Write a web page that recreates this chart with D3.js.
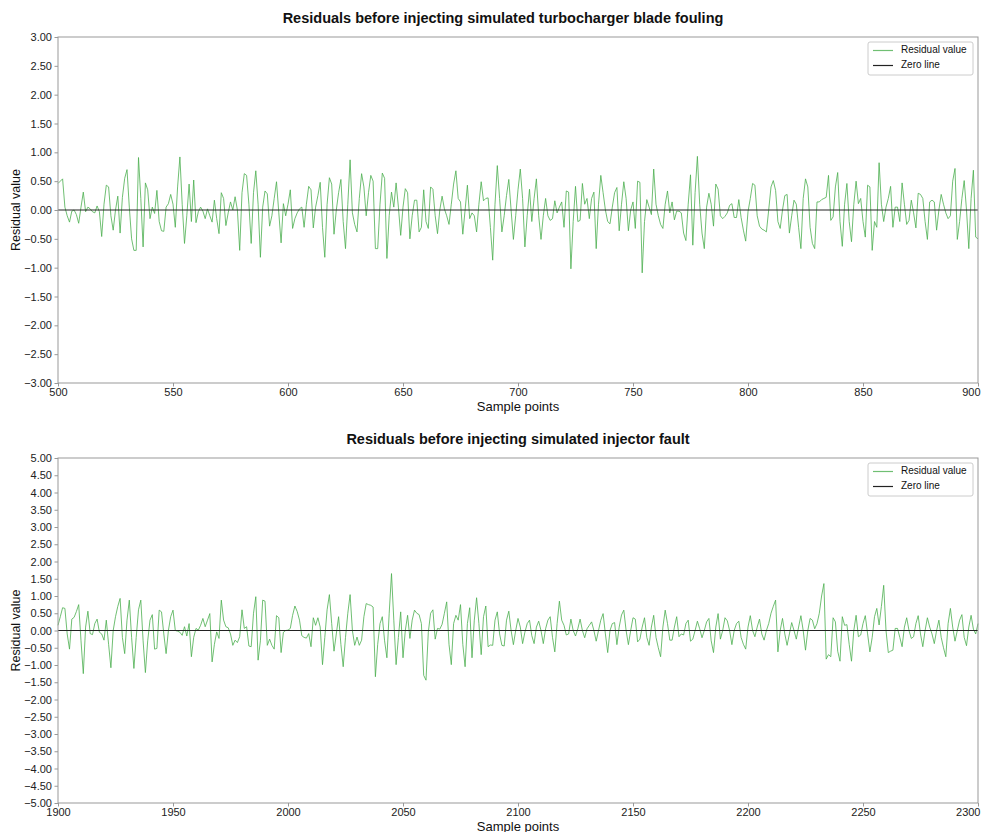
<!DOCTYPE html>
<html>
<head>
<meta charset="utf-8">
<script src="https://cdnjs.cloudflare.com/ajax/libs/d3/7.8.5/d3.min.js"></script>
<style>
  body { margin: 0; background: #fff; }
  text { font-family: Arial, "Liberation Sans", sans-serif; }
</style>
</head>
<body>
<svg id="chart" width="983" height="832"></svg>
<script>
// residuals, one value per sample point
var topStart = 500;
var topResiduals = [
  0.46,0.50,0.54,0.05,-0.10,-0.21,-0.02,0.00,-0.08,-0.23,
  0.05,0.31,-0.03,0.05,0.02,-0.03,-0.05,0.07,-0.03,-0.46,
  0.10,0.43,0.40,-0.10,-0.35,0.00,0.24,-0.40,0.22,0.55,
  0.70,0.05,-0.50,-0.70,-0.70,0.91,0.20,-0.64,0.47,0.35,
  -0.15,0.05,-0.06,0.34,-0.20,-0.36,-0.37,0.05,0.11,0.27,
  0.10,-0.30,0.40,0.92,0.10,-0.58,-0.10,0.45,-0.20,0.52,
  -0.22,-0.03,0.05,-0.02,-0.15,0.02,-0.10,-0.21,0.17,-0.15,
  -0.41,0.30,0.20,-0.27,-0.05,0.14,0.00,0.23,0.00,-0.70,
  0.30,0.63,0.60,0.10,-0.58,0.30,0.68,0.10,-0.82,0.05,
  0.33,0.28,-0.28,-0.10,0.20,0.49,-0.05,-0.57,0.11,-0.10,
  0.10,0.35,-0.32,-0.15,-0.05,0.02,0.05,-0.30,0.10,0.41,
  0.35,-0.31,0.05,0.25,0.48,-0.30,-0.82,0.10,0.56,0.45,
  -0.42,0.00,0.30,0.53,-0.20,-0.67,0.10,0.87,-0.05,-0.25,
  -0.38,0.20,0.63,0.40,-0.10,0.30,0.60,0.50,-0.67,-0.67,
  0.10,0.64,0.55,-0.84,-0.10,0.31,0.05,0.47,0.05,-0.44,
  0.05,0.37,0.30,-0.50,-0.10,0.17,0.17,-0.38,-0.30,0.35,
  -0.20,-0.32,0.40,0.36,-0.10,-0.41,0.00,0.24,0.02,-0.10,
  -0.25,0.10,0.45,0.68,0.20,0.14,-0.42,0.00,0.43,-0.15,
  -0.05,-0.10,-0.38,0.10,0.49,0.16,0.20,0.21,-0.30,-0.87,
  0.10,0.77,0.20,-0.38,-0.10,0.25,0.53,0.00,-0.51,-0.10,
  0.35,0.71,0.20,-0.64,-0.10,0.36,-0.20,0.20,0.54,-0.10,
  -0.51,-0.10,0.20,-0.10,-0.18,-0.15,0.16,-0.05,0.05,0.14,
  -0.30,0.33,0.31,-1.02,-0.20,0.41,-0.20,-0.18,0.46,0.10,
  0.20,-0.15,0.20,0.31,-0.67,0.10,0.60,0.30,0.00,-0.20,
  -0.24,0.05,0.30,0.39,-0.36,0.10,0.49,0.20,-0.36,0.00,
  0.14,-0.32,0.50,0.48,-1.09,-0.20,0.18,0.05,-0.08,0.71,
  0.10,-0.10,-0.25,-0.32,0.10,0.33,-0.05,0.14,-0.17,-0.02,
  -0.02,-0.05,-0.40,-0.53,0.10,0.61,-0.61,0.30,0.93,0.10,
  -0.40,-0.67,0.05,0.29,0.10,-0.28,0.45,0.36,-0.10,-0.15,
  -0.11,-0.05,0.08,0.11,-0.13,-0.13,0.18,-0.13,-0.35,-0.54,
  -0.03,0.20,0.46,0.43,-0.10,-0.28,-0.33,-0.35,-0.38,0.00,
  0.40,0.51,0.34,-0.20,-0.32,0.00,0.25,0.27,-0.40,-0.10,
  0.17,0.10,-0.30,-0.67,0.20,0.54,0.40,-0.30,-0.58,-0.67,
  0.14,0.14,0.18,0.20,0.22,0.60,-0.18,-0.12,0.40,0.65,
  -0.20,-0.63,0.10,0.46,-0.20,-0.55,0.10,0.50,0.11,0.20,
  -0.20,-0.47,0.43,0.40,-0.70,-0.20,-0.30,0.82,0.10,-0.20,
  0.05,0.20,0.41,-0.30,0.05,0.05,-0.20,0.47,0.10,-0.25,
  -0.18,0.17,-0.05,-0.31,0.29,0.27,0.20,-0.20,-0.51,0.14,
  0.17,0.14,-0.35,0.00,0.27,0.10,-0.05,-0.15,-0.10,0.50,
  0.72,-0.51,-0.20,0.20,0.51,0.00,-0.67,0.20,0.69,-0.47,
  -0.50
];

var bottomStart = 1900;
var bottomResiduals = [
  0.15,0.40,0.66,0.64,-0.10,-0.54,0.33,0.38,0.55,0.75,
  -0.30,-1.25,0.10,0.56,-0.09,-0.12,0.20,0.33,-0.05,-0.10,
  -0.28,0.30,-0.40,-1.08,0.00,0.40,0.70,0.93,-0.20,-0.67,
  0.30,0.88,-0.20,-1.10,-0.20,0.60,0.88,-0.30,-1.22,-0.30,
  0.30,0.46,-0.54,-0.52,0.59,0.54,-0.10,-0.67,0.00,0.40,
  0.59,0.00,-0.02,-0.05,-0.14,0.11,-0.16,0.20,-0.76,-0.20,
  0.06,0.01,0.15,0.35,0.11,0.30,0.49,-0.91,-0.40,-0.04,
  -0.23,0.88,0.30,0.11,0.08,-0.10,-0.43,-0.28,-0.35,-0.18,
  0.60,0.06,0.11,-0.45,-0.47,0.50,0.98,-0.86,-0.30,0.88,
  0.85,-0.43,-0.25,-0.43,-0.54,0.43,0.37,-0.64,-0.05,0.00,
  0.01,0.06,0.44,0.71,0.55,0.30,-0.15,-0.20,-0.22,-0.09,
  -0.47,0.37,0.15,0.37,0.10,-0.99,-0.20,0.60,1.04,0.20,
  -0.60,-0.10,0.40,-0.40,-1.05,-0.20,0.50,1.04,0.00,-0.43,
  -0.19,-0.43,-0.28,0.40,0.78,0.75,0.73,0.68,-1.34,-0.40,
  0.20,0.40,-0.30,-0.79,0.50,1.65,0.30,-0.99,-0.20,0.54,
  -0.79,0.00,0.44,-0.23,0.30,0.59,0.50,0.46,0.20,-1.30,
  -1.44,-0.05,0.50,0.60,-0.25,0.06,0.04,0.18,0.50,0.83,
  -0.40,-0.99,0.20,0.44,0.30,0.75,-0.40,-1.05,0.20,0.66,
  -0.79,0.30,0.95,0.20,-0.70,0.40,0.71,-0.47,-0.42,-0.43,
  0.30,0.54,-0.10,-0.43,-0.45,0.30,0.56,0.00,-0.41,0.00,
  0.35,0.10,-0.38,-0.05,0.20,0.30,-0.15,-0.38,0.10,0.27,
  0.00,-0.38,0.05,0.30,0.40,-0.20,-0.62,0.20,0.85,0.30,
  0.15,-0.13,-0.10,0.33,0.00,-0.16,0.05,0.33,0.00,-0.21,
  0.05,0.15,0.25,0.00,-0.31,0.00,0.30,0.49,-0.10,-0.64,
  0.00,0.20,0.23,-0.41,0.10,0.45,0.59,0.00,-0.41,0.00,
  0.37,0.33,-0.33,-0.25,0.10,0.37,-0.20,-0.43,0.10,0.44,
  -0.20,-0.50,-0.76,0.10,0.59,0.20,-0.28,-0.28,0.10,0.40,
  -0.18,-0.10,-0.13,0.20,0.30,-0.31,-0.25,0.00,0.27,0.05,
  -0.21,0.00,0.25,0.35,-0.30,-0.64,0.10,0.49,-0.25,0.00,
  0.37,0.28,0.00,-0.41,0.00,0.20,0.27,-0.20,-0.40,-0.54,
  0.10,0.43,0.00,-0.18,0.10,0.33,-0.10,-0.28,0.00,0.20,
  0.50,0.70,0.88,-0.62,0.00,0.35,-0.10,-0.43,-0.10,0.23,
  0.00,-0.25,0.10,0.43,0.00,-0.57,0.00,0.35,0.30,0.05,
  0.20,0.50,1.00,1.36,-0.83,-0.70,-0.76,0.37,0.25,-0.60,
  -0.89,0.40,0.15,0.17,-0.40,-0.89,0.00,0.44,-0.18,-0.13,
  0.20,0.43,-0.10,-0.62,-0.20,0.40,0.64,0.16,0.70,1.31,
  0.00,-0.64,-0.60,-0.57,0.06,0.06,-0.20,-0.47,0.10,0.37,
  0.00,-0.23,-0.18,0.20,0.43,-0.10,-0.47,0.00,0.37,0.10,
  -0.10,-0.38,0.00,0.30,-0.20,-0.50,-0.76,0.20,0.64,0.10,
  -0.31,0.00,0.30,0.46,-0.20,-0.44,0.10,0.44,0.04,-0.10,
  0.20
];

var topXTicks = [500, 550, 600, 650, 700, 750, 800, 850, 900];
var topYTicks = [-3, -2.5, -2, -1.5, -1, -0.5, 0, 0.5, 1, 1.5, 2, 2.5, 3];
var bottomXTicks = [1900, 1950, 2000, 2050, 2100, 2150, 2200, 2250, 2300];
var bottomYTicks = [-5, -4.5, -4, -3.5, -3, -2.5, -2, -1.5, -1, -0.5, 0, 0.5,
                    1, 1.5, 2, 2.5, 3, 3.5, 4, 4.5, 5];
var legendLabels = ['Residual value', 'Zero line'];

var svg = d3.select('#chart');
var left = 58, right = 978;
var green = '#4caf50', axisGrey = '#999';

function drawPanel(p) {
  var g = svg.append('g');
  var x = d3.scaleLinear().domain([p.xTicks[0], p.xTicks[p.xTicks.length - 1]]).range([left, right]);
  var y = d3.scaleLinear().domain([p.yTicks[0], p.yTicks[p.yTicks.length - 1]]).range([p.bottom, p.top]);

  var points = p.values.map(function(v, i) { return { x: p.start + i, y: v }; });

  var line = d3.line()
    .x(function(d) { return x(d.x); })
    .y(function(d) { return y(d.y); });

  g.append('path')
    .datum(points)
    .attr('d', line)
    .attr('fill', 'none')
    .attr('stroke', green)
    .attr('stroke-opacity', 0.8)
    .attr('stroke-width', 1);

  // zero line sits on top of the residuals
  g.append('line')
    .attr('x1', x.range()[0]).attr('x2', x.range()[1])
    .attr('y1', y(0)).attr('y2', y(0))
    .attr('stroke', '#222')
    .attr('stroke-width', 1.2);

  // frame
  g.append('rect')
    .attr('x', left).attr('y', p.top)
    .attr('width', right - left).attr('height', p.bottom - p.top)
    .attr('fill', 'none')
    .attr('stroke', axisGrey)
    .attr('stroke-width', 1);

  var xAxis = g.append('g')
    .attr('transform', 'translate(0,' + p.bottom + ')')
    .call(d3.axisBottom(x).tickValues(p.xTicks).tickFormat(d3.format('d')).tickSize(3.5).tickPadding(2));
  var yAxis = g.append('g')
    .attr('transform', 'translate(' + left + ',0)')
    .call(d3.axisLeft(y).tickValues(p.yTicks).tickFormat(d3.format('.2f')).tickSize(3.5).tickPadding(2.5));

  [xAxis, yAxis].forEach(function(a) {
    a.select('.domain').remove();
    a.selectAll('.tick line').attr('stroke', axisGrey);
    a.selectAll('.tick text')
      .attr('fill', '#222')
      .style('font-size', '11px')
      .style('font-family', 'Arial, "Liberation Sans", sans-serif');
  });
  // last x label sits inside the page edge, like the reference
  xAxis.selectAll('.tick:last-of-type text')
    .attr('text-anchor', 'end')
    .attr('dx', '2');

  g.append('text')
    .attr('x', (left + right) / 2 + p.titleShift).attr('y', p.top - 14.5)
    .attr('text-anchor', 'middle')
    .style('font-size', '14.5px').style('font-weight', 'bold')
    .attr('fill', '#111')
    .text(p.title);

  g.append('text')
    .attr('x', (left + right) / 2).attr('y', p.bottom + 27.5)
    .attr('text-anchor', 'middle')
    .style('font-size', '13px')
    .attr('fill', '#111')
    .text('Sample points');

  g.append('text')
    .attr('transform', 'translate(17,' + (p.top + p.bottom) / 2 + ') rotate(-90)')
    .attr('text-anchor', 'middle')
    .attr('dominant-baseline', 'middle')
    .style('font-size', '12.5px')
    .attr('fill', '#111')
    .text('Residual value');

  // legend
  var lg = g.append('g').attr('transform', 'translate(868,' + (p.top + 5) + ')');
  lg.append('rect')
    .attr('width', 105).attr('height', 33).attr('rx', 2)
    .attr('fill', '#fff').attr('stroke', '#ccc');
  lg.selectAll('line.key').data(legendLabels).enter().append('line')
    .attr('class', 'key')
    .attr('x1', 5).attr('x2', 25)
    .attr('y1', function(d, i) { return 8.5 + i * 15; })
    .attr('y2', function(d, i) { return 8.5 + i * 15; })
    .attr('stroke', function(d, i) { return i == 0 ? green : '#222'; })
    .attr('stroke-opacity', function(d, i) { return i == 0 ? 0.8 : 1; })
    .attr('stroke-width', 1.2);
  lg.selectAll('text.key').data(legendLabels).enter().append('text')
    .attr('class', 'key')
    .attr('x', 33)
    .attr('y', function(d, i) { return 8.5 + i * 15; })
    .attr('dominant-baseline', 'middle')
    .style('font-size', '10px')
    .attr('fill', '#111')
    .text(function(d) { return d; });
}

drawPanel({
  top: 37, bottom: 383, titleShift: -15,
  title: 'Residuals before injecting simulated turbocharger blade fouling',
  start: topStart, values: topResiduals,
  xTicks: topXTicks, yTicks: topYTicks
});

drawPanel({
  top: 458, bottom: 803, titleShift: 0,
  title: 'Residuals before injecting simulated injector fault',
  start: bottomStart, values: bottomResiduals,
  xTicks: bottomXTicks, yTicks: bottomYTicks
});
</script>
</body>
</html>
